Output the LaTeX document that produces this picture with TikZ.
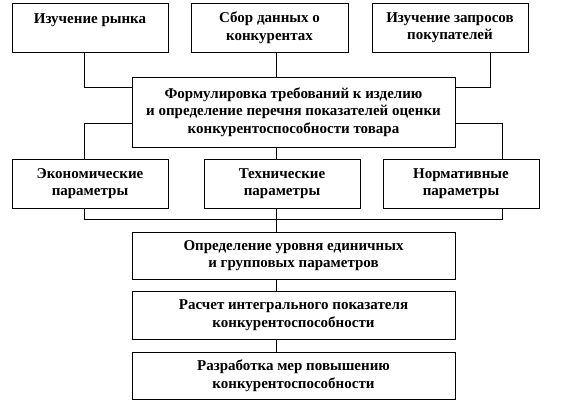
\documentclass[tikz,border=0pt]{standalone}
\usepackage{fontspec}
\setmainfont{Liberation Serif}[BoldFont={Liberation Serif Bold}]
\begin{document}
\begin{tikzpicture}[x=1pt,y=-1pt,
  box/.style={draw=black,line width=0.8pt,fill=white,inner sep=0pt,align=center,
    font=\bfseries\fontsize{15}{17.5}\selectfont},
  conn/.style={draw=black,line width=0.8pt}]
\useasboundingbox (0,0) rectangle (564,402);
% top row
\node[box,minimum width=156pt,minimum height=49pt] (b1) at (90,27.5) {Изучение рынка\\\mbox{}};
\node[box,minimum width=157pt,minimum height=49pt] (b2) at (269.5,27.5) {Сбор данных о\\конкурентах};
\node[box,minimum width=156pt,minimum height=49pt] (b3) at (450,27.5) {Изучение запросов\\покупателей};
% main
\node[box,minimum width=323pt,minimum height=70pt] (m) at (293.5,112) {Формулировка требований к изделию\\и определение перечня показателей оценки\\конкурентоспособности товара};
% second row
\node[box,minimum width=156pt,minimum height=49pt] (r1) at (90,183.5) {Экономические\\параметры};
\node[box,minimum width=156pt,minimum height=49pt] (r2) at (282,183.5) {Технические\\параметры};
\node[box,minimum width=156pt,minimum height=49pt] (r3) at (461,183.5) {Нормативные\\параметры};
% bottom chain
\node[box,minimum width=323pt,minimum height=47pt] (d1) at (293.5,255.5) {Определение уровня единичных\\и групповых параметров};
\node[box,minimum width=323pt,minimum height=48pt] (d2) at (293.5,315) {Расчет интегрального показателя\\конкурентоспособности};
\node[box,minimum width=323pt,minimum height=47pt] (d3) at (293.5,375.5) {Разработка мер повышению\\конкурентоспособности};
% helper coordinates
\coordinate (tl) at (84,87);
\coordinate (tr) at (490,87);
\coordinate (ml) at (84,123);
\coordinate (mr) at (502,123);
\coordinate (cx) at (276,0);
\coordinate (bus) at (0,219);
% connectors
\draw[conn] (b1.south -| tl) |- (m.west |- tl);
\draw[conn] (b2.south -| cx) -- (m.north -| cx);
\draw[conn] (b3.south -| tr) |- (m.east |- tr);
\draw[conn] (m.west |- ml) -| (r1.north -| ml);
\draw[conn] (m.south -| cx) -- (r2.north -| cx);
\draw[conn] (m.east |- mr) -| (r3.north -| mr);
\draw[conn] (r1.south -| ml) -- (bus -| ml) -- (bus -| mr) -- (r3.south -| mr);
\draw[conn] (r2.south -| cx) -- (d1.north -| cx);
\draw[conn] (d1.south -| cx) -- (d2.north -| cx);
\draw[conn] (d2.south -| cx) -- (d3.north -| cx);
\end{tikzpicture}
\end{document}
